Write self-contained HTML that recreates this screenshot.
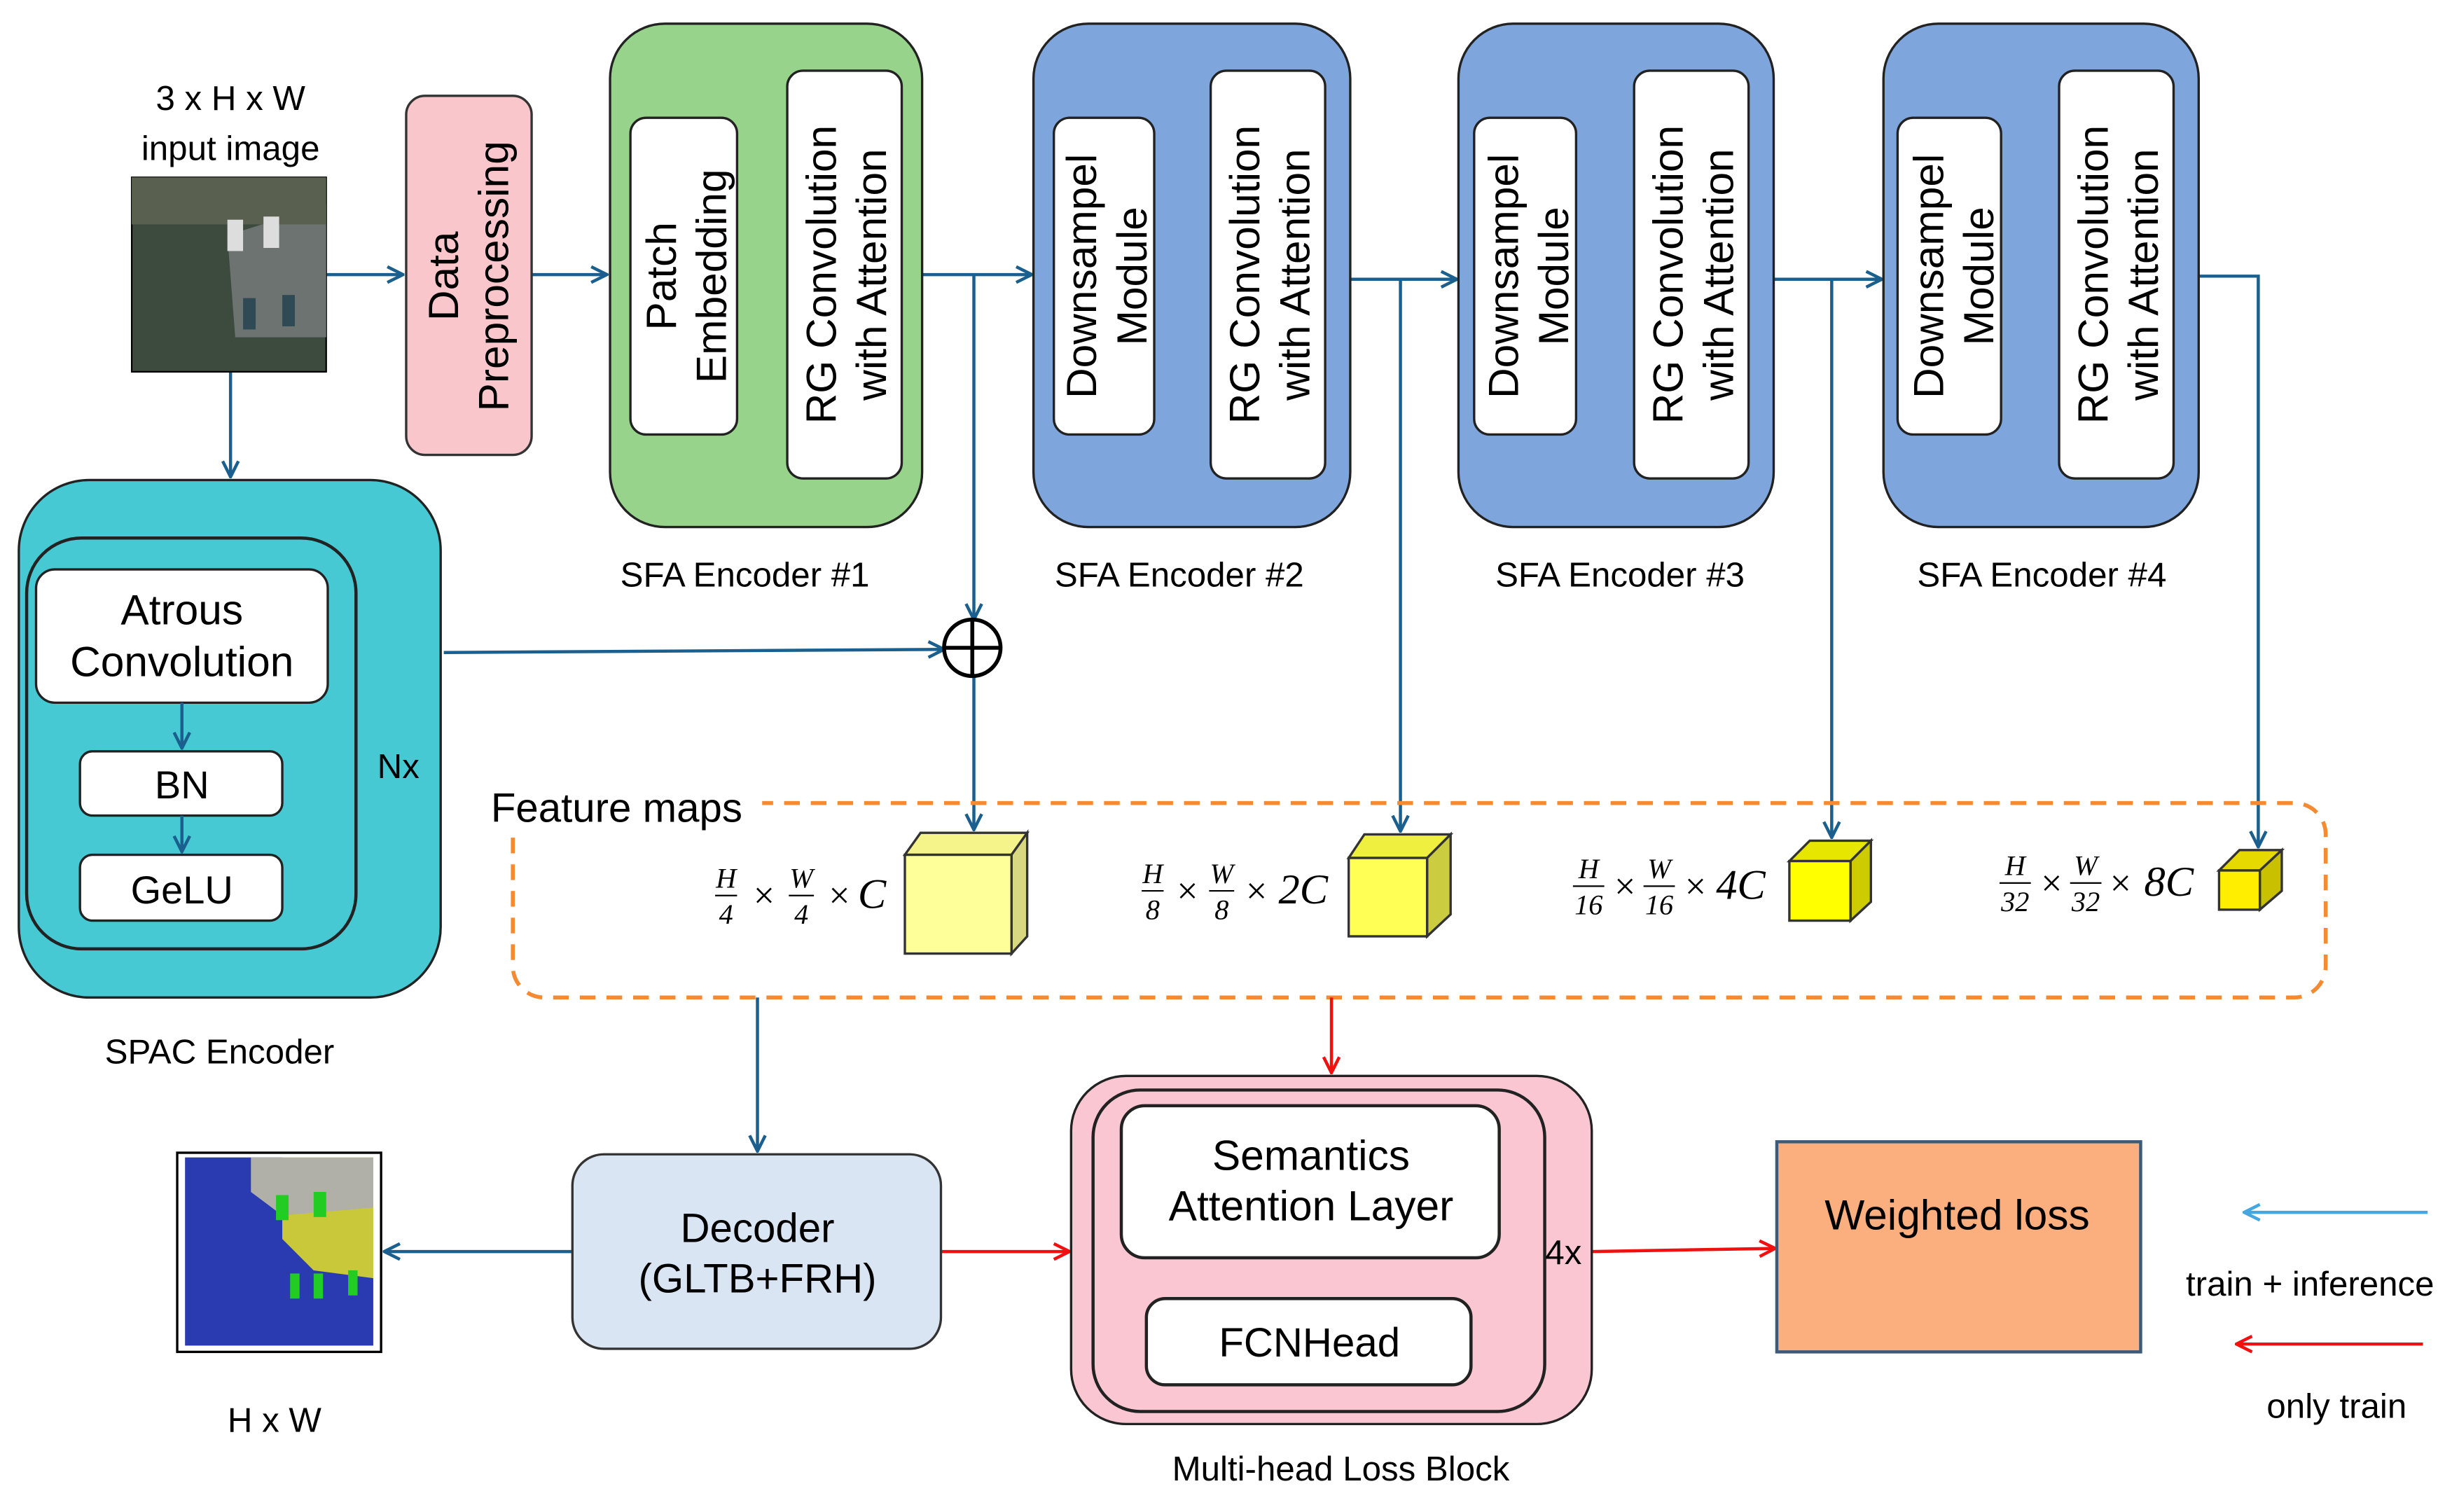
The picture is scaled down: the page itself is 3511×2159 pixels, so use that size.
<!DOCTYPE html>
<html><head><meta charset="utf-8"><style>
html,body{margin:0;padding:0;background:#fff;}
svg{display:block;}
text{font-family:"Liberation Sans",sans-serif;fill:#000;}
.m{font-family:"Liberation Serif",serif;font-style:italic;}
</style></head><body>
<svg width="3511" height="2159" viewBox="0 0 1568 964" xmlns="http://www.w3.org/2000/svg">
<defs>
<marker id="ab" viewBox="0 0 12 12" refX="11" refY="6" markerWidth="12" markerHeight="12" markerUnits="userSpaceOnUse" orient="auto"><path d="M1,1 L11,6 L1,11" fill="none" stroke="#1a5f8e" stroke-width="2"/></marker>
<marker id="ar" viewBox="0 0 12 12" refX="11" refY="6" markerWidth="12" markerHeight="12" markerUnits="userSpaceOnUse" orient="auto"><path d="M1,1 L11,6 L1,11" fill="none" stroke="#f01010" stroke-width="2"/></marker>
<marker id="al" viewBox="0 0 12 12" refX="11" refY="6" markerWidth="12" markerHeight="12" markerUnits="userSpaceOnUse" orient="auto"><path d="M1,1 L11,6 L1,11" fill="none" stroke="#45a6e0" stroke-width="2"/></marker>
</defs>
<g stroke="#1a5f8e" stroke-width="2" fill="none">
<line x1="208" y1="175" x2="257" y2="175" marker-end="url(#ab)"/>
<line x1="339" y1="175" x2="387" y2="175" marker-end="url(#ab)"/>
<line x1="470" y1="175" x2="501" y2="175" marker-end="url(#ab)"/>
<line x1="588" y1="175" x2="658" y2="175" marker-end="url(#ab)"/>
<line x1="736" y1="175" x2="771" y2="175" marker-end="url(#ab)"/>
<line x1="861" y1="178" x2="929" y2="178" marker-end="url(#ab)"/>
<line x1="1005" y1="176" x2="1041" y2="176" marker-end="url(#ab)"/>
<line x1="1131" y1="178" x2="1200" y2="178" marker-end="url(#ab)"/>
<line x1="1276" y1="176" x2="1312" y2="176" marker-end="url(#ab)"/>
<line x1="621" y1="175" x2="621" y2="395" marker-end="url(#ab)"/>
<line x1="621" y1="431" x2="621" y2="529" marker-end="url(#ab)"/>
<line x1="893" y1="178" x2="893" y2="530" marker-end="url(#ab)"/>
<line x1="1168" y1="178" x2="1168" y2="534" marker-end="url(#ab)"/>
<polyline points="1402,176 1440,176 1440,540" marker-end="url(#ab)"/>
<line x1="147" y1="237" x2="147" y2="304" marker-end="url(#ab)"/>
<line x1="283" y1="416" x2="602" y2="414" marker-end="url(#ab)"/>
<line x1="483" y1="636" x2="483" y2="734" marker-end="url(#ab)"/>
<line x1="365" y1="798" x2="245" y2="798" marker-end="url(#ab)"/>
</g>
<circle cx="620" cy="413" r="18" fill="#fff" stroke="#000" stroke-width="2.5"/>
<line x1="602" y1="413" x2="638" y2="413" stroke="#000" stroke-width="2.5"/>
<line x1="620" y1="395" x2="620" y2="431" stroke="#000" stroke-width="2.5"/>
<!-- input image -->
<text x="147" y="70" font-size="22" text-anchor="middle">3 x H x W</text>
<text x="147" y="102" font-size="22" text-anchor="middle">input image</text>
<rect x="84" y="113" width="124" height="124" fill="#3d4a3e" stroke="#000"/>
<polygon points="145,150 208,130 208,215 150,215" fill="#6d7370"/>
<rect x="84" y="113" width="124" height="30" fill="#59604f"/>
<rect x="145" y="140" width="10" height="20" fill="#ddd"/><rect x="168" y="138" width="10" height="20" fill="#ddd"/>
<rect x="155" y="190" width="8" height="20" fill="#2f4a55"/><rect x="180" y="188" width="8" height="20" fill="#2f4a55"/>
<!-- data preprocessing -->
<rect x="259" y="61" width="80" height="229" rx="12" fill="#f9c6cb" stroke="#333" stroke-width="1.5"/>
<text transform="translate(299,176) rotate(-90)" font-size="27" text-anchor="middle"><tspan x="0" y="-7">Data</tspan><tspan x="0" y="25">Preprocessing</tspan></text>
<!-- SFA encoders -->
<rect x="389" y="15" width="199" height="321" rx="35" fill="#98d38b" stroke="#222" stroke-width="1.5"/>
<rect x="402" y="75" width="68" height="202" rx="10" fill="#fff" stroke="#222" stroke-width="1.5"/>
<rect x="502" y="45" width="73" height="260" rx="10" fill="#fff" stroke="#222" stroke-width="1.5"/>
<text transform="translate(438,176) rotate(-90)" font-size="27" text-anchor="middle"><tspan x="0" y="-7">Patch</tspan><tspan x="0" y="25">Embedding</tspan></text>
<text transform="translate(540,175) rotate(-90)" font-size="27" text-anchor="middle"><tspan x="0" y="-7">RG Convolution</tspan><tspan x="0" y="25">with Attention</tspan></text>
<text x="475" y="374" font-size="22" text-anchor="middle">SFA Encoder #1</text>

<g>
<rect x="659" y="15" width="202" height="321" rx="35" fill="#7ea6dc" stroke="#222" stroke-width="1.5"/>
<rect x="672" y="75" width="64" height="202" rx="10" fill="#fff" stroke="#222" stroke-width="1.5"/>
<rect x="772" y="45" width="73" height="260" rx="10" fill="#fff" stroke="#222" stroke-width="1.5"/>
<text transform="translate(706,176) rotate(-90)" font-size="27" text-anchor="middle"><tspan x="0" y="-7">Downsampel</tspan><tspan x="0" y="25">Module</tspan></text>
<text transform="translate(810,175) rotate(-90)" font-size="27" text-anchor="middle"><tspan x="0" y="-7">RG Convolution</tspan><tspan x="0" y="25">with Attention</tspan></text>
<text x="752" y="374" font-size="22" text-anchor="middle">SFA Encoder #2</text>
</g>
<g>
<rect x="930" y="15" width="201" height="321" rx="35" fill="#7ea6dc" stroke="#222" stroke-width="1.5"/>
<rect x="940" y="75" width="65" height="202" rx="10" fill="#fff" stroke="#222" stroke-width="1.5"/>
<rect x="1042" y="45" width="73" height="260" rx="10" fill="#fff" stroke="#222" stroke-width="1.5"/>
<text transform="translate(975,176) rotate(-90)" font-size="27" text-anchor="middle"><tspan x="0" y="-7">Downsampel</tspan><tspan x="0" y="25">Module</tspan></text>
<text transform="translate(1080,175) rotate(-90)" font-size="27" text-anchor="middle"><tspan x="0" y="-7">RG Convolution</tspan><tspan x="0" y="25">with Attention</tspan></text>
<text x="1033" y="374" font-size="22" text-anchor="middle">SFA Encoder #3</text>
</g>
<g>
<rect x="1201" y="15" width="201" height="321" rx="35" fill="#7ea6dc" stroke="#222" stroke-width="1.5"/>
<rect x="1210" y="75" width="66" height="202" rx="10" fill="#fff" stroke="#222" stroke-width="1.5"/>
<rect x="1313" y="45" width="73" height="260" rx="10" fill="#fff" stroke="#222" stroke-width="1.5"/>
<text transform="translate(1246,176) rotate(-90)" font-size="27" text-anchor="middle"><tspan x="0" y="-7">Downsampel</tspan><tspan x="0" y="25">Module</tspan></text>
<text transform="translate(1351,175) rotate(-90)" font-size="27" text-anchor="middle"><tspan x="0" y="-7">RG Convolution</tspan><tspan x="0" y="25">with Attention</tspan></text>
<text x="1302" y="374" font-size="22" text-anchor="middle">SFA Encoder #4</text>
</g>
<!-- SPAC -->
<rect x="12" y="306" width="269" height="330" rx="45" fill="#47c9d4" stroke="#222" stroke-width="1.5"/>
<rect x="17" y="343" width="210" height="262" rx="35" fill="none" stroke="#222" stroke-width="2"/>
<rect x="23" y="363" width="186" height="85" rx="12" fill="#fff" stroke="#222" stroke-width="1.5"/>
<text x="116" y="398" font-size="27" text-anchor="middle">Atrous</text>
<text x="116" y="431" font-size="27" text-anchor="middle">Convolution</text>
<rect x="51" y="479" width="129" height="41" rx="8" fill="#fff" stroke="#222" stroke-width="1.5"/>
<text x="116" y="509" font-size="25" text-anchor="middle">BN</text>
<rect x="51" y="545" width="129" height="42" rx="8" fill="#fff" stroke="#222" stroke-width="1.5"/>
<text x="116" y="576" font-size="25" text-anchor="middle">GeLU</text>
<line x1="116" y1="448" x2="116" y2="477" stroke="#1a5f8e" stroke-width="2" marker-end="url(#ab)"/>
<line x1="116" y1="520" x2="116" y2="543" stroke="#1a5f8e" stroke-width="2" marker-end="url(#ab)"/>
<text x="254" y="496" font-size="22" text-anchor="middle">Nx</text>
<text x="140" y="678" font-size="22" text-anchor="middle">SPAC Encoder</text>
<!-- feature maps -->
<rect x="327" y="512" width="1156" height="124" rx="20" fill="none" stroke="#f58a30" stroke-width="2.5" stroke-dasharray="10,7"/>
<rect x="308" y="498" width="178" height="30" fill="#fff"/>
<text x="313" y="524" font-size="26">Feature maps</text>
<!-- cubes -->
<g stroke="#333" stroke-width="1.5">
<polygon points="577,545 587,531 655,531 645,545" fill="#f4f48a"/><polygon points="645,545 655,531 655,597 645,608" fill="#d8d880"/><rect x="577" y="545" width="68" height="63" fill="#ffff99"/>
<polygon points="860,547 870,532 925,532 910,547" fill="#efef40"/><polygon points="910,547 925,532 925,583 910,597" fill="#cccc40"/><rect x="860" y="547" width="50" height="50" fill="#ffff55"/>
<polygon points="1141,549 1154,536 1193,536 1180,549" fill="#e6e600"/><polygon points="1180,549 1193,536 1193,575 1180,587" fill="#cccc00"/><rect x="1141" y="549" width="39" height="38" fill="#ffff00"/>
<polygon points="1415,555 1428,542 1455,542 1441,555" fill="#e6d900"/><polygon points="1441,555 1455,542 1455,568 1441,580" fill="#c9c000"/><rect x="1415" y="555" width="26" height="25" fill="#ffee00"/>
</g>
<g font-size="18" text-anchor="middle">
<text class="m" x="463" y="566">H</text><line x1="456" y1="571" x2="470" y2="571" stroke="#000"/><text class="m" x="463" y="589" font-style="normal">4</text>
<text class="m" x="487" y="579" font-style="normal" font-size="24">×</text>
<text class="m" x="511" y="566">W</text><line x1="503" y1="571" x2="519" y2="571" stroke="#000"/><text class="m" x="511" y="589" font-style="normal">4</text>
<text class="m" x="535" y="579" font-style="normal" font-size="24">×</text>
<text class="m" x="556" y="579" font-size="27">C</text>

<text class="m" x="735" y="563">H</text><line x1="728" y1="568" x2="742" y2="568" stroke="#000"/><text class="m" x="735" y="586" font-style="normal">8</text>
<text class="m" x="757" y="576" font-style="normal" font-size="24">×</text>
<text class="m" x="779" y="563">W</text><line x1="771" y1="568" x2="787" y2="568" stroke="#000"/><text class="m" x="779" y="586" font-style="normal">8</text>
<text class="m" x="801" y="576" font-style="normal" font-size="24">×</text>
<text class="m" x="831" y="576" font-size="27">2C</text>

<text class="m" x="1013" y="560">H</text><line x1="1003" y1="565" x2="1023" y2="565" stroke="#000"/><text class="m" x="1013" y="583" font-style="normal">16</text>
<text class="m" x="1036" y="573" font-style="normal" font-size="24">×</text>
<text class="m" x="1058" y="560">W</text><line x1="1048" y1="565" x2="1068" y2="565" stroke="#000"/><text class="m" x="1058" y="583" font-style="normal">16</text>
<text class="m" x="1081" y="573" font-style="normal" font-size="24">×</text>
<text class="m" x="1110" y="573" font-size="27">4C</text>

<text class="m" x="1285" y="558">H</text><line x1="1275" y1="563" x2="1295" y2="563" stroke="#000"/><text class="m" x="1285" y="581" font-style="normal">32</text>
<text class="m" x="1308" y="571" font-style="normal" font-size="24">×</text>
<text class="m" x="1330" y="558">W</text><line x1="1320" y1="563" x2="1340" y2="563" stroke="#000"/><text class="m" x="1330" y="581" font-style="normal">32</text>
<text class="m" x="1352" y="571" font-style="normal" font-size="24">×</text>
<text class="m" x="1383" y="571" font-size="27">8C</text>
</g>
<!-- red arrows -->
<g stroke="#f01010" stroke-width="2" fill="none">
<line x1="849" y1="636" x2="849" y2="684" marker-end="url(#ar)"/>
<line x1="600" y1="798" x2="682" y2="798" marker-end="url(#ar)"/>
<line x1="835" y1="802" x2="835" y2="826" marker-end="url(#ar)"/>
<line x1="1015" y1="798" x2="1132" y2="796" marker-end="url(#ar)"/>
<line x1="1545" y1="857" x2="1426" y2="857" marker-end="url(#ar)"/>
</g>
<line x1="1548" y1="773" x2="1431" y2="773" stroke="#45a6e0" stroke-width="2" marker-end="url(#al)"/>
<!-- decoder -->
<rect x="365" y="736" width="235" height="124" rx="20" fill="#dae5f4" stroke="#333" stroke-width="1.5"/>
<text x="483" y="792" font-size="26" text-anchor="middle">Decoder</text>
<text x="483" y="824" font-size="26" text-anchor="middle">(GLTB+FRH)</text>
<!-- output -->
<rect x="113" y="735" width="130" height="127" fill="#fff" stroke="#000" stroke-width="1.5"/>
<rect x="118" y="738" width="120" height="120" fill="#c8c83a"/>
<polygon points="118,738 180,738 180,790 200,810 238,815 238,858 118,858" fill="#2a3ab0"/>
<polygon points="160,738 238,738 238,770 180,775 160,760" fill="#b0b0a8"/>
<rect x="176" y="762" width="8" height="16" fill="#22cc22"/><rect x="200" y="760" width="8" height="16" fill="#22cc22"/>
<rect x="185" y="812" width="6" height="16" fill="#22cc22"/><rect x="200" y="812" width="6" height="16" fill="#22cc22"/><rect x="222" y="810" width="6" height="16" fill="#22cc22"/>
<text x="175" y="913" font-size="22" text-anchor="middle">H x W</text>
<!-- multi-head loss -->
<rect x="683" y="686" width="332" height="222" rx="35" fill="#fac6d2" stroke="#222" stroke-width="1.5"/>
<rect x="697" y="695" width="288" height="205" rx="30" fill="none" stroke="#222" stroke-width="2"/>
<rect x="715" y="705" width="241" height="97" rx="15" fill="#fff" stroke="#222" stroke-width="2"/>
<text x="836" y="746" font-size="27" text-anchor="middle">Semantics</text>
<text x="836" y="778" font-size="27" text-anchor="middle">Attention Layer</text>
<rect x="731" y="828" width="207" height="55" rx="12" fill="#fff" stroke="#222" stroke-width="2"/>
<text x="835" y="865" font-size="26" text-anchor="middle">FCNHead</text>
<text x="997" y="806" font-size="22" text-anchor="middle">4x</text>
<text x="855" y="944" font-size="22" text-anchor="middle">Multi-head Loss Block</text>
<!-- weighted loss -->
<rect x="1133" y="728" width="232" height="134" fill="#fbae7e" stroke="#3e5a78" stroke-width="2"/>
<text x="1248" y="784" font-size="27" text-anchor="middle">Weighted loss</text>
<text x="1473" y="826" font-size="22" text-anchor="middle">train + inference</text>
<text x="1490" y="904" font-size="22" text-anchor="middle">only train</text>
</svg>
</body></html>
